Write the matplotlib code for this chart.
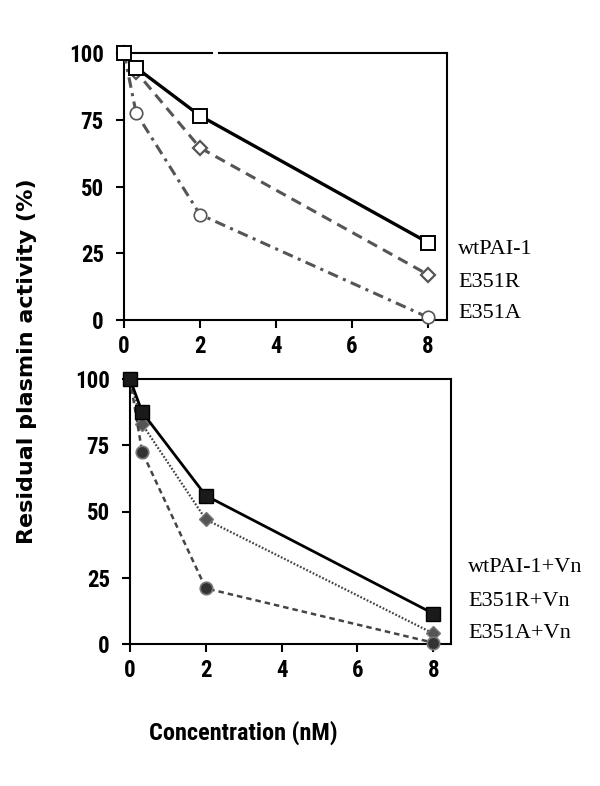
import matplotlib
matplotlib.use("Agg")
import matplotlib.pyplot as plt
from matplotlib.lines import Line2D

# ---- data ----
conc = [0, 0.32, 2, 8]
wt = [100, 94.5, 76.5, 29]
e351r = [100, 93, 64.5, 17]
e351a = [100, 77.5, 39.5, 1]

wt_vn = [100, 87.5, 56, 11.5]
e351r_vn = [100, 83, 47, 4]
e351a_vn = [100, 72.5, 21, 0.5]

top_labels = ["wtPAI-1", "E351R", "E351A"]
bot_labels = ["wtPAI-1+Vn", "E351R+Vn", "E351A+Vn"]
xticks = [0, 2, 4, 6, 8]
yticks = [0, 25, 50, 75, 100]

cond = ["Roboto Condensed", "DejaVu Sans"]

fig = plt.figure(figsize=(6, 7.86), dpi=100)
ax1 = fig.add_axes([124/600, 1-320/786, 323/600, 267/786])
ax2 = fig.add_axes([130/600, 1-644/786, 321/600, 265/786])

gray = "#555555"

# top panel
ax1.plot(conc, wt, color="black", lw=2.4, marker="s", ms=10, mfc="white", mec="black", mew=1.4, clip_on=False, zorder=5)
ax1.plot(conc, e351r, color=gray, lw=2.2, ls=(0, (3.5, 2.2)), marker="D", ms=7, mfc="white", mec=gray, mew=1.6, clip_on=False, zorder=4)
ax1.plot(conc, e351a, color=gray, lw=2.2, ls=(0, (3.5, 1.8, 1, 1.8)), marker="o", ms=9, mfc="white", mec=gray, mew=1.2, clip_on=False, zorder=4)

# bottom panel
ax2.plot(conc, wt_vn, color="black", lw=2.0, marker="s", ms=10, mfc="#1a1a1a", mec="black", mew=1, clip_on=False, zorder=5)
ax2.plot(conc, e351r_vn, color="#444444", lw=1.6, ls=(0, (0.8, 0.8)), marker="D", ms=7, mfc="#555555", mec="#777777", mew=1, clip_on=False, zorder=4)
ax2.plot(conc, e351a_vn, color="#444444", lw=1.8, ls=(0, (2.2, 1.6)), marker="o", ms=9, mfc="#333333", mec="#777777", mew=1.2, clip_on=False, zorder=4)

for ax, xr in ((ax1, 8.5), (ax2, 8.47)):
    ax.set_xlim(0, xr)
    ax.set_ylim(0, 100)
    ax.set_xticks(xticks)
    ax.set_yticks(yticks)
    for s in ax.spines.values():
        s.set_linewidth(1.5)
    ax.tick_params(axis="both", direction="out", length=5.5, width=1.5)
    ax.tick_params(axis="y", pad=9)
    ax.tick_params(axis="x", pad=5)
    for lab in ax.get_xticklabels() + ax.get_yticklabels():
        lab.set_family(cond)
        lab.set_fontweight("bold")
        lab.set_fontsize(16.5)

# gap in top spine of the upper panel
ax1.spines["top"].set_visible(False)
for a, b in ((0, (212-124)/323), ((219-124)/323, 1)):
    ax1.add_line(Line2D([a, b], [1, 1], transform=ax1.transAxes, color="black", lw=1.5, clip_on=False))

# series labels
for lab, y in zip(top_labels, [250, 282, 314]):
    fig.text(458/600, 1-y/786, lab, family=["Liberation Serif", "DejaVu Serif"], fontsize=16, va="center", ha="left")
for lab, y in zip(bot_labels, [568, 602, 634]):
    fig.text(468/600, 1-y/786, lab, family=["Liberation Serif", "DejaVu Serif"], fontsize=16, va="center", ha="left")

fig.text(27/600, 1-361/786, "Residual plasmin activity (%)", rotation=90, family="DejaVu Sans",
         fontweight="bold", fontsize=16, va="center", ha="center")
fig.text(243/600, 1-733/786, "Concentration (nM)", family=cond,
         fontweight="bold", fontsize=17.5, va="center", ha="center")

fig.savefig("out.png", dpi=100)
